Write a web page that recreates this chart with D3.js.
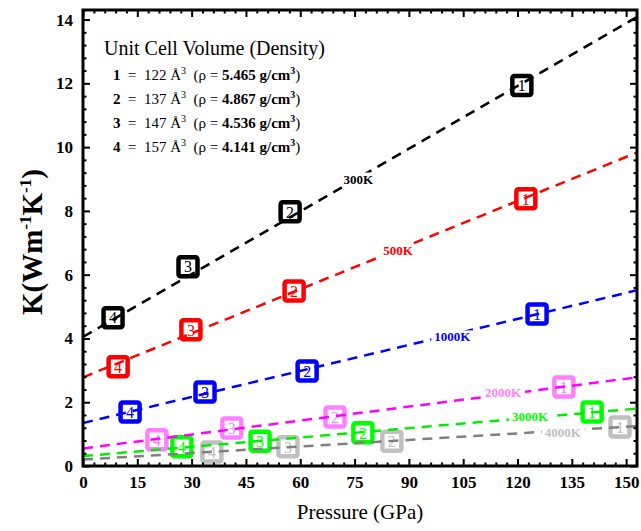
<!DOCTYPE html>
<html>
<head>
<meta charset="utf-8">
<script src="https://cdn.jsdelivr.net/npm/d3@7"></script>
<style>
  body { margin: 0; background: #fff; }
  svg text { font-family: "Liberation Serif", "Times New Roman", serif; }
</style>
</head>
<body>
<div id="chart"></div>
<script>
// temperatures, one fitted line each
const temps = ["300K", "500K", "1000K", "2000K", "3000K", "4000K"];
// unit cell id shown in each marker (largest volume first)
const cellIds = [4, 3, 2, 1];
// pressure (GPa) of each point, per temperature
const pressure = [
  [8.3, 29.0, 57.2, 121.2],
  [9.7, 29.8, 58.3, 122.3],
  [13.0, 33.7, 61.9, 125.4],
  [20.4, 41.1, 69.6, 132.8],
  [27.3, 48.9, 77.3, 140.6],
  [35.6, 56.6, 85.3, 148.3]
];
// thermal conductivity (W/m/K) of each point
const kappa = [
  [4.65, 6.25, 7.97, 11.93],
  [3.11, 4.27, 5.49, 8.38],
  [1.69, 2.32, 2.98, 4.77],
  [0.82, 1.19, 1.54, 2.48],
  [0.60, 0.78, 1.04, 1.69],
  [0.44, 0.60, 0.78, 1.22]
];
// linear fit lines, K at 0 GPa and at 153 GPa
const fitStart = [4.05, 2.78, 1.35, 0.55, 0.31, 0.20];
const fitEnd = [14.08, 9.83, 5.51, 2.78, 1.80, 1.25];
const legendRows = [
  { id: "1", vol: "122", rho: "5.465" },
  { id: "2", vol: "137", rho: "4.867" },
  { id: "3", vol: "147", rho: "4.536" },
  { id: "4", vol: "157", rho: "4.141" }
];
const xTicks = d3.range(0, 151, 15);
const yTicks = d3.range(0, 15, 2);

const lineColor = ["#000000", "#ff0000", "#0000ff", "#ff00ff", "#00ee00", "#808080"];
const markColor = ["#000000", "#ff0000", "#0000ff", "#ff80ff", "#00ff00", "#c0c0c0"];
// where the temperature labels sit, in data units
const labelAt = [[76, 9.0], [87, 6.75], [102, 4.05], [116, 2.3], [123.5, 1.55], [132.5, 1.05]];

var opt = {
  width: 641, height: 531,
  margin: { top: 10, right: 4, bottom: 65, left: 83 }
};
var W = opt.width, H = opt.height, m = opt.margin;

var x = d3.scaleLinear().domain([0, 153]).range([m.left, W - m.right]);
var y = d3.scaleLinear().domain([0, 14.3]).range([H - m.bottom, m.top]);

var svg = d3.select("#chart").append("svg")
  .attr("width", W).attr("height", H);

svg.append("clipPath").attr("id", "plot")
  .append("rect")
  .attr("x", m.left).attr("y", m.top)
  .attr("width", W - m.left - m.right).attr("height", H - m.top - m.bottom);

// markers
temps.forEach(function(t, s) {
  var g = svg.append("g").attr("clip-path", "url(#plot)");
  var pts = cellIds.map((id, i) => ({ id: id, p: pressure[s][i], k: kappa[s][i] }));
  var mk = g.selectAll("g.mk").data(pts).enter().append("g")
    .attr("transform", d => "translate(" + x(d.p) + "," + y(d.k) + ")");
  mk.append("rect")
    .attr("x", -9.5).attr("y", -9.5).attr("width", 19).attr("height", 19)
    .attr("rx", 2)
    .attr("fill", "#fff")
    .attr("stroke", markColor[s])
    .attr("stroke-width", 4.5);
  mk.append("text")
    .attr("text-anchor", "middle")
    .attr("dy", "0.36em")
    .style("font-size", "16px")
    .style("fill", markColor[s])
    .text(d => d.id);
});

// fitted dashed lines, labels sit on a white gap in the line
temps.forEach(function(t, s) {
  var dom = x.domain();
  svg.append("path")
    .attr("clip-path", "url(#plot)")
    .attr("d", d3.line()([[x(dom[0]), y(fitStart[s])], [x(dom[1]), y(fitEnd[s])]]))
    .attr("fill", "none")
    .attr("stroke", lineColor[s])
    .attr("stroke-width", 2.5)
    .attr("stroke-dasharray", "10,7");
});
temps.forEach(function(t, s) {
  var bg = svg.append("rect").attr("fill", "#fff");
  var lab = svg.append("text")
    .attr("x", x(labelAt[s][0])).attr("y", y(labelAt[s][1]))
    .attr("text-anchor", "middle")
    .attr("dy", "0.35em")
    .style("font-size", "13px")
    .style("font-weight", "bold")
    .style("fill", markColor[s])
    .text(t);
  var bb = lab.node().getBBox();
  bg.attr("x", bb.x - 3).attr("y", bb.y + 1).attr("width", bb.width + 6).attr("height", bb.height - 2);
});

// axes: ticks pointing inwards on all four sides
function minor(step, max, major) {
  return d3.range(0, max, step).filter(v => Math.abs(v / major - Math.round(v / major)) > 1e-6);
}
var xMinor = minor(3, 153, 15), yMinor = minor(0.4, 14.3, 2);

function axisGroup(axis, tr) {
  var g = svg.append("g").attr("transform", tr).call(axis);
  g.select(".domain").remove();
  g.selectAll("line").attr("stroke", "#000").attr("stroke-width", 2);
  return g;
}
var bottomY = H - m.bottom, rightX = W - m.right;

var xb = axisGroup(d3.axisBottom(x).tickValues(xTicks).tickSize(-7).tickPadding(10), "translate(0," + bottomY + ")");
xb.selectAll("text").style("font-size", "17px").style("font-weight", "bold").style("font-family", "Liberation Serif, serif");
axisGroup(d3.axisBottom(x).tickValues(xMinor).tickSize(-3.5).tickFormat(""), "translate(0," + bottomY + ")");
axisGroup(d3.axisTop(x).tickValues(xTicks).tickSize(-7).tickFormat(""), "translate(0," + m.top + ")");
axisGroup(d3.axisTop(x).tickValues(xMinor).tickSize(-3.5).tickFormat(""), "translate(0," + m.top + ")");

var yl = axisGroup(d3.axisLeft(y).tickValues(yTicks).tickSize(-7).tickPadding(10), "translate(" + m.left + ",0)");
yl.selectAll("text").style("font-size", "17px").style("font-weight", "bold").style("font-family", "Liberation Serif, serif");
axisGroup(d3.axisLeft(y).tickValues(yMinor).tickSize(-3.5).tickFormat(""), "translate(" + m.left + ",0)");
axisGroup(d3.axisRight(y).tickValues(yTicks).tickSize(-7).tickFormat(""), "translate(" + rightX + ",0)");
axisGroup(d3.axisRight(y).tickValues(yMinor).tickSize(-3.5).tickFormat(""), "translate(" + rightX + ",0)");

// frame
svg.append("rect")
  .attr("x", m.left).attr("y", m.top)
  .attr("width", rightX - m.left).attr("height", bottomY - m.top)
  .attr("fill", "none").attr("stroke", "#000").attr("stroke-width", 3);

// axis titles
svg.append("text")
  .attr("x", (m.left + rightX) / 2).attr("y", 519)
  .attr("text-anchor", "middle")
  .style("font-size", "21px")
  .text("Pressure (GPa)");

var yt = svg.append("text")
  .attr("transform", "translate(42,242) rotate(-90)")
  .attr("text-anchor", "middle")
  .style("font-size", "29px")
  .style("font-weight", "bold");
yt.append("tspan").text("K(Wm");
yt.append("tspan").attr("dy", -11).style("font-size", "17px").text("-1");
yt.append("tspan").attr("dy", 11).text("K");
yt.append("tspan").attr("dy", -11).style("font-size", "17px").text("-1");
yt.append("tspan").attr("dy", 11).text(")");

// legend block
svg.append("text")
  .attr("x", 104).attr("y", 55)
  .style("font-size", "20px")
  .text("Unit Cell Volume (Density)");

var rows = svg.selectAll("text.leg").data(legendRows).enter().append("text")
  .attr("class", "leg")
  .attr("x", 113)
  .attr("y", (d, i) => 80 + i * 24)
  .style("font-size", "15px")
  .style("white-space", "pre");
rows.each(function(d) {
  var t = d3.select(this);
  t.append("tspan").style("font-weight", "bold").text(d.id);
  t.append("tspan").text("  =  " + d.vol + " Å");
  t.append("tspan").attr("dy", -6).style("font-size", "10px").text("3");
  t.append("tspan").attr("dy", 6).text("  (ρ = ");
  t.append("tspan").style("font-weight", "bold").text(d.rho + " g/cm");
  t.append("tspan").attr("dy", -6).style("font-size", "10px").style("font-weight", "bold").text("3");
  t.append("tspan").attr("dy", 6).text(")");
});
</script>
</body>
</html>
